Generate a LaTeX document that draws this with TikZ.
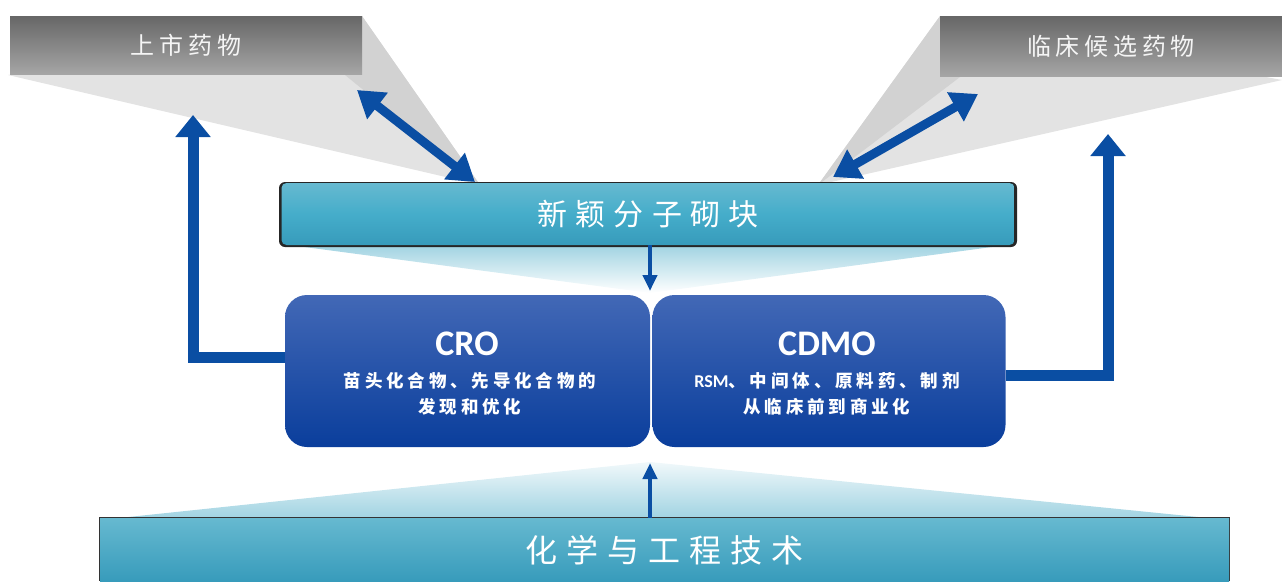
\documentclass[tikz,border=0pt]{standalone}
\usepackage{fontspec}
\setmainfont{Carlito}
\newfontfamily\cjk{Noto Sans CJK SC}
\newfontfamily\cjkA[LetterSpace=20]{Noto Sans CJK SC}
\newfontfamily\cjkB[LetterSpace=28]{Noto Sans CJK SC}
\newfontfamily\cjkC[LetterSpace=22]{Noto Sans CJK SC}
\usetikzlibrary{arrows.meta}
\definecolor{arrowblue}{HTML}{0A4EA3}
\definecolor{tealtop}{HTML}{66B9D0}
\definecolor{tealmid}{HTML}{45ADCA}
\definecolor{tealbot}{HTML}{379BBB}
\definecolor{bluetop}{HTML}{4268B6}
\definecolor{bluebot}{HTML}{0A3E9C}
\definecolor{graytop}{HTML}{676767}
\definecolor{graybot}{HTML}{A5A5A5}
\definecolor{lightgray}{HTML}{E3E3E3}
\definecolor{midgray}{HTML}{D2D2D2}
\definecolor{paleteal}{HTML}{9ED2E1}
\tikzset{
  graybox/.style={rectangle, top color=graytop, bottom color=graybot, inner sep=0pt,
    text=white!92!gray, font=\cjkA\fontsize{24}{26}\selectfont},
  tealbox/.style={rectangle, rounded corners=5pt, top color=tealtop, bottom color=tealbot,
    middle color=tealmid, inner sep=0pt, text=white},
  bluebox/.style={rectangle, rounded corners=22pt, top color=bluetop, bottom color=bluebot,
    inner sep=0pt, text=white, minimum height=152pt},
  bigarrow/.style={draw=arrowblue, line width=11pt, -{Triangle[width=34pt,length=22pt]}},
  dblarrow/.style={draw=arrowblue, line width=9pt, {Triangle[width=32pt,length=26pt]}-{Triangle[width=32pt,length=26pt]}},
  smallarrow/.style={draw=arrowblue, line width=4pt, -{Triangle[width=14pt,length=16pt]}},
  subtext/.style={font=\cjkC\bfseries\fontsize{17.5}{26}\selectfont, text=white, align=center}
}
\begin{document}
\begin{tikzpicture}[x=1pt,y=-1pt]
\useasboundingbox (0,0) rectangle (1282,581);
% funnels behind top boxes
\fill[lightgray] (8,75) -- (362,16) -- (480,185) -- cycle;
\fill[midgray] (362,16) -- (362,75) -- (345,75) -- (480,185) -- cycle;
\fill[lightgray] (1282,80) -- (940,16) -- (818,185) -- cycle;
\fill[midgray] (940,16) -- (940,77) -- (960,77) -- (818,185) -- cycle;
% top boxes
\node[graybox, minimum width=352pt, minimum height=58pt] (lbox) at (186,45) {上市药物};
\node[graybox, minimum width=342pt, minimum height=60pt] (rbox) at (1111,46) {临床候选药物};
% trapezoids
\shade[top color=paleteal, bottom color=white] (282,244) -- (1014,244) -- (650,293) -- cycle;
\shade[top color=white!85!paleteal, bottom color=paleteal] (100,520) -- (1228,520) -- (650,462) -- cycle;
% middle bar
\fill[black!85, rounded corners=6pt] (279,182) rectangle (1017,247);
\node[tealbox, minimum width=733pt, minimum height=62pt, font=\cjkB\fontsize{30}{34}\selectfont] (mid) at (648,214) {新颖分子砌块};
% bottom bar
\fill[black!80] (99,517) rectangle (1230,581);
\node[rectangle, top color=tealtop, middle color=tealmid, bottom color=tealbot, inner sep=0pt,
  minimum width=1129pt, minimum height=64pt, text=white, font=\cjkB\fontsize{32}{36}\selectfont] (bot) at (664.5,550) {化学与工程技术};
% blue boxes
\node[bluebox, minimum width=365pt] (cro) at (467.5,371) {};
\node[bluebox, minimum width=353pt] (cdmo) at (829,371) {};
\node[text=white, font=\bfseries\fontsize{36}{40}\selectfont] (crot) at (467,344) {CRO};
\node[subtext] (crod) at (470,394) {苗头化合物、先导化合物的\\发现和优化};
\node[text=white, font=\bfseries\fontsize{36}{40}\selectfont] (cdmot) at (827,344) {CDMO};
\node[subtext] (cdmod) at (827,394) {{\rmfamily\bfseries\fontsize{18}{26}\selectfont RSM}、中间体、原料药、制剂\\从临床前到商业化};
% coordinates for free ends
\coordinate (ltip) at (193,115);
\coordinate (rtip) at (1108,134);
\coordinate (la1) at (357,90);
\coordinate (la2) at (475,182);
\coordinate (ra1) at (978,94);
\coordinate (ra2) at (833,177);
\coordinate (dtip) at (650,291);
\coordinate (utip) at (650,463);
% connectors
\draw[bigarrow] ([yshift=14pt]cro.west) -| (ltip);
\draw[bigarrow] ([yshift=-4pt]cdmo.east) -| (rtip);
\draw[dblarrow] (la1) -- (la2);
\draw[dblarrow] (ra1) -- (ra2);
\draw[smallarrow] (mid.south -| dtip) -- (dtip);
\draw[smallarrow] (bot.north -| utip) -- (utip);
\end{tikzpicture}
\end{document}
